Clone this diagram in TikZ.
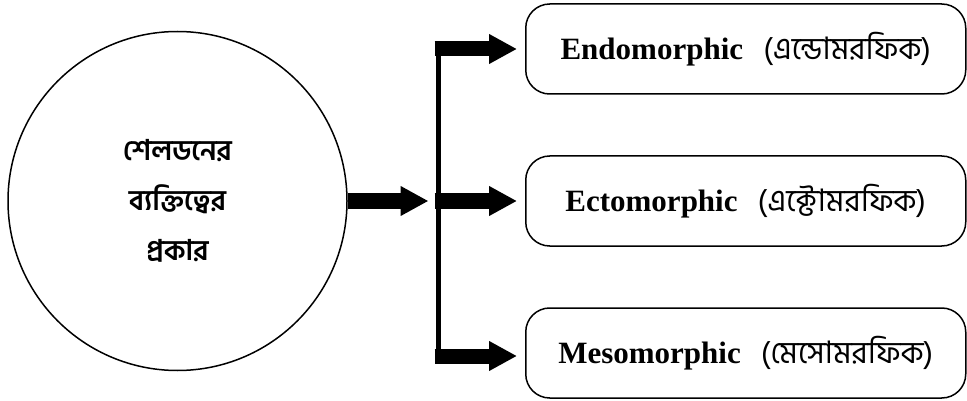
\documentclass[tikz,border=0pt]{standalone}
\usepackage{fontspec}
\setmainfont{Liberation Serif}
\newfontfamily\bn[Script=Bengali]{Hind Siliguri}
\newfontfamily\bnm[Script=Bengali]{Hind Siliguri SemiBold}
\usetikzlibrary{arrows.meta}
\newcommand{\bnlabel}[1]{{\bn (#1)}}
\begin{document}
\begin{tikzpicture}[x=1pt,y=1pt,
  typebox/.style={draw, line width=1.5pt, rounded corners=24pt,
    minimum width=440pt, minimum height=90pt, anchor=west, inner sep=0pt},
  bigarrow/.style={line width=15pt, -{Triangle[length=28pt,width=28pt]}},
  boxlabel/.style={font=\fontsize{31}{36}\selectfont}
]
\useasboundingbox (0,0) rectangle (967,-401);

% central circle
\node[draw, circle, line width=1.5pt, minimum size=339pt, inner sep=0pt,
      align=center, font=\bnm\fontsize{28.5}{50}\selectfont]
  (c) at (177.5,-201) {শেলডনের\\ব্যক্তিত্বের\\প্রকার};

% three type boxes
\node[typebox, boxlabel] (b1) at (525,-49)
  {\textbf{Endomorphic}\hspace{0.65em}\bnlabel{এন্ডোমরফিক}};
\node[typebox, boxlabel] (b2) at (525,-201)
  {\textbf{Ectomorphic}\hspace{0.65em}\bnlabel{এক্টোমরফিক}};
\node[typebox, boxlabel] (b3) at (525,-353)
  {\textbf{Mesomorphic}\hspace{0.65em}\bnlabel{মেসোমরফিক}};

% branching bar
\coordinate (t) at (438.5,-49);
\coordinate (m) at (438.5,-201);
\coordinate (u) at (438.5,-356);
\draw[line width=5pt] (t) -- (u);

% arrow from circle to the bar
\draw[bigarrow, shorten >=10pt] (c.east) -- (m);

% arrows from the bar to the boxes
\draw[bigarrow, shorten >=8pt] ([xshift=-4pt]t) -- (b1.west);
\draw[bigarrow, shorten >=8pt] ([xshift=-4pt]m) -- (b2.west);
\draw[bigarrow, shorten >=8pt] ([xshift=-4pt]u) -- (b3.west |- u);
\end{tikzpicture}
\end{document}
